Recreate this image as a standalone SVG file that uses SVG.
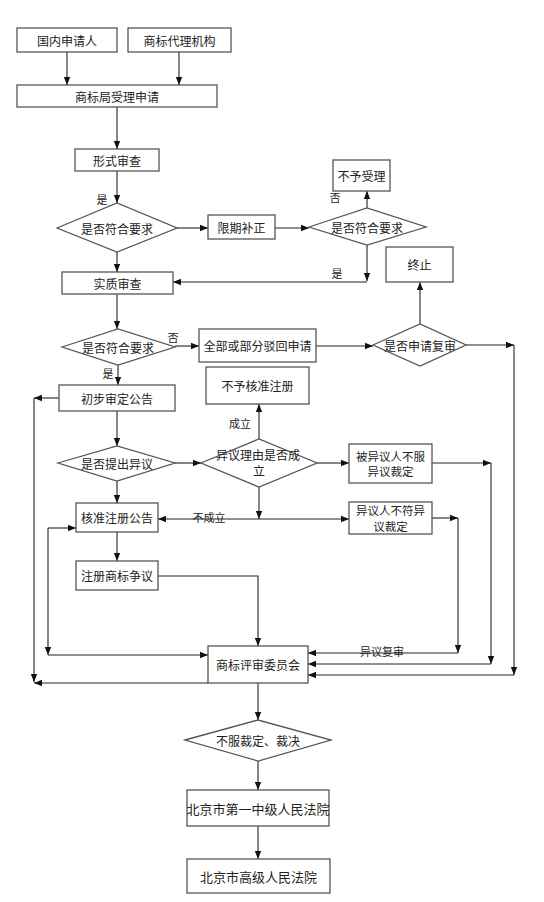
<svg xmlns="http://www.w3.org/2000/svg" width="544" height="902" viewBox="0 0 544 902">
<defs>
<marker id="ah" viewBox="0 0 10 10" refX="10" refY="5" markerWidth="8" markerHeight="8" markerUnits="userSpaceOnUse" orient="auto">
<path d="M0,1 L10,5 L0,9 Z" fill="#111"/>
</marker>
<style>
.b{fill:#fff;stroke:#555;stroke-width:1.3}
.t{font-family:"Noto Sans CJK SC","Noto Sans CJK JP",sans-serif;font-size:12px;fill:#222;text-anchor:middle;dominant-baseline:central}
.c13{font-size:13px}
.l{font-size:11px}
.s{font-size:11.5px}
.e path{fill:none;stroke:#222;stroke-width:1.1}
.e .a{marker-end:url(#ah)}
</style>
</defs>
<rect width="544" height="902" fill="#fff"/>

<g id="connectors" class="e">
<path class="a" d="M67,52 V85"/>
<path class="a" d="M179,52 V85"/>
<path class="a" d="M117,107 V149"/>
<path class="a" d="M117,171 V203"/>
<path class="a" d="M177,228 H208"/>
<path class="a" d="M275,228 H309"/>
<path class="a" d="M367,208 V191"/>
<path class="a" d="M367,245 V281"/>
<path class="a" d="M367,282 H173"/>
<path class="a" d="M117,252 V272"/>
<path class="a" d="M117,294 V329"/>
<path class="a" d="M175,346 H199"/>
<path class="a" d="M316,346 H373"/>
<path class="a" d="M420,324 V282"/>
<path class="a" d="M466,345 H514"/>
<path class="a" d="M514,345 V675"/>
<path class="a" d="M514,675 H308"/>
<path class="a" d="M118,365 V385"/>
<path class="a" d="M59,398 H34"/>
<path class="a" d="M34,398 V682"/>
<path class="a" d="M208,683 H34"/>
<path class="a" d="M117,411 V446"/>
<path class="a" d="M175,463 H201"/>
<path class="a" d="M259,439 V404"/>
<path class="a" d="M317,463 H349"/>
<path class="a" d="M432,463 H491"/>
<path class="a" d="M491,463 V664"/>
<path class="a" d="M491,664 H308"/>
<path class="a" d="M117,481 V503"/>
<path class="a" d="M259,487 V519"/>
<path class="a" d="M259,519 H158"/>
<path class="a" d="M259,519 H349"/>
<path class="a" d="M432,518 H458"/>
<path class="a" d="M458,518 V653"/>
<path class="a" d="M458,653 H308"/>
<path class="a" d="M117,532 V561"/>
<path class="a" d="M158,576 H258 V646"/>
<path class="a" d="M48,528 H76"/>
<path class="a" d="M48,528 V655"/>
<path class="a" d="M48,655 H208"/>
<path class="a" d="M258,683 V720"/>
<path class="a" d="M258,761 V790"/>
<path class="a" d="M258,826 V859"/>
</g>

<g id="n1"><rect class="b" x="17" y="28" width="100" height="24"/><text class="t" x="67" y="40">国内申请人</text></g>
<g id="n2"><rect class="b" x="128" y="28" width="103" height="24"/><text class="t" x="179.5" y="40">商标代理机构</text></g>
<g id="n3"><rect class="b" x="17" y="85" width="200" height="22"/><text class="t" x="117" y="96">商标局受理申请</text></g>
<g id="n4"><rect class="b" x="75" y="149" width="84" height="22"/><text class="t" x="117" y="160">形式审查</text></g>
<g id="d1"><polygon class="b" points="57,228 117,203 177,228 117,252"/><text class="t" x="117" y="228">是否符合要求</text></g>
<g id="n5"><rect class="b" x="208" y="215" width="67" height="24"/><text class="t" x="241.5" y="227">限期补正</text></g>
<g id="d2"><polygon class="b" points="309,227 367,208 426,227 367,245"/><text class="t" x="367" y="227">是否符合要求</text></g>
<g id="n6"><rect class="b" x="333" y="160" width="57" height="31"/><text class="t" x="361.5" y="175.5">不予受理</text></g>
<g id="n7"><rect class="b" x="62" y="272" width="111" height="22"/><text class="t" x="117.5" y="283">实质审查</text></g>
<g id="n8"><rect class="b" x="386" y="247" width="67" height="35"/><text class="t" x="419.5" y="264.5">终止</text></g>
<g id="d3"><polygon class="b" points="62,347 118,329 175,347 118,365"/><text class="t" x="118" y="347">是否符合要求</text></g>
<g id="n9"><rect class="b" x="199" y="329" width="117" height="33"/><text class="t" x="257.5" y="345.5">全部或部分驳回申请</text></g>
<g id="d4"><polygon class="b" points="373,345 420,324 466,345 420,366"/><text class="t" x="420" y="345">是否申请复审</text></g>
<g id="n10"><rect class="b" x="59" y="385" width="116" height="26"/><text class="t" x="117" y="398">初步审定公告</text></g>
<g id="n11"><rect class="b" x="206" y="367" width="103" height="37"/><text class="t" x="257.5" y="385.5">不予核准注册</text></g>
<g id="d5"><polygon class="b" points="58,463 117,446 175,463 117,481"/><text class="t" x="117" y="463">是否提出异议</text></g>
<g id="d6"><polygon class="b" points="201,463 259,439 317,463 259,487"/><text class="t" x="258" y="454.5">异议理由是否成</text><text class="t" x="259" y="470.5">立</text></g>
<g id="n12"><rect class="b" x="349" y="444" width="83" height="39"/><text class="t s" x="390.5" y="455.5">被异议人不服</text><text class="t s" x="390.5" y="471">异议裁定</text></g>
<g id="n13"><rect class="b" x="76" y="503" width="82" height="29"/><text class="t" x="117" y="517.5">核准注册公告</text></g>
<g id="n14"><rect class="b" x="349" y="502" width="83" height="32"/><text class="t s" x="390.5" y="510">异议人不符异</text><text class="t s" x="390.5" y="525.5">议裁定</text></g>
<g id="n15"><rect class="b" x="76" y="561" width="82" height="29"/><text class="t" x="117" y="575.5">注册商标争议</text></g>
<g id="n16"><rect class="b" x="208" y="646" width="100" height="37"/><text class="t" x="258" y="664.5">商标评审委员会</text></g>
<g id="d7"><polygon class="b" points="185,740 258,720 331,740 258,761"/><text class="t" x="258" y="740">不服裁定、裁决</text></g>
<g id="n17"><rect class="b" x="187" y="790" width="142" height="36"/><text class="t c13" x="258" y="808">北京市第一中级人民法院</text></g>
<g id="n18"><rect class="b" x="187" y="859" width="143" height="34"/><text class="t c13" x="258.5" y="876">北京市高级人民法院</text></g>

<g id="labels">
<text class="t l" x="102" y="199">是</text>
<text class="t l" x="335" y="197">否</text>
<text class="t l" x="337" y="273">是</text>
<text class="t l" x="173" y="337">否</text>
<text class="t l" x="108" y="373">是</text>
<text class="t l" x="240" y="423">成立</text>
<text class="t l" x="209" y="517">不成立</text>
<text class="t l" x="382" y="651">异议复审</text>
</g>
</svg>
